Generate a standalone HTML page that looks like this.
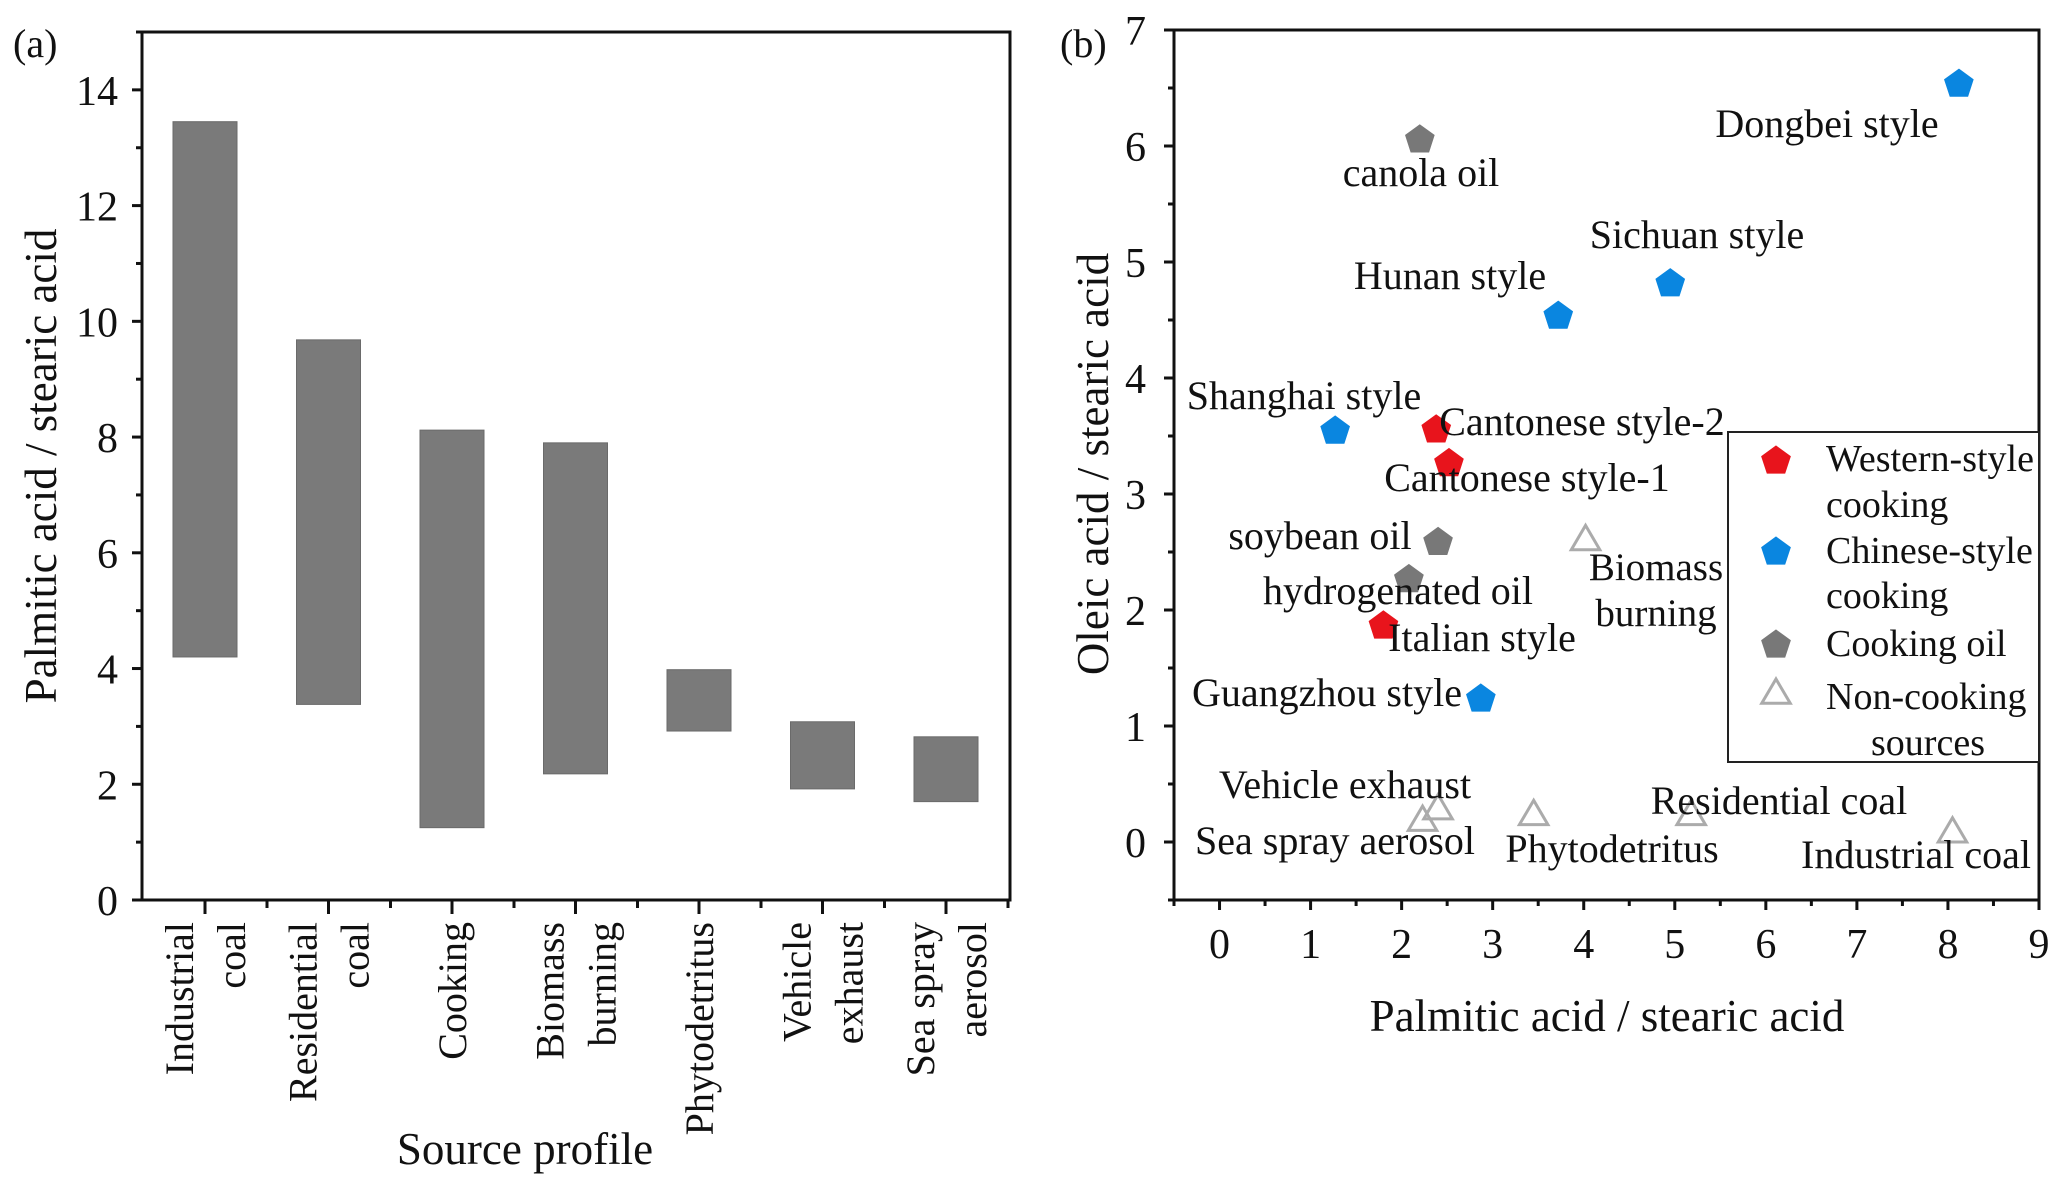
<!DOCTYPE html>
<html><head><meta charset="utf-8"><style>
html,body{margin:0;padding:0;background:#fff}
svg{display:block;font-family:"Liberation Serif",serif}
</style></head><body>
<svg id="c" width="2067" height="1193" viewBox="0 0 2067 1193" xmlns="http://www.w3.org/2000/svg"></svg>
<script>
const catLine1=["Industrial","Residential","Cooking","Biomass","Phytodetritus","Vehicle","Sea spray"];
const catLine2=["coal","coal","","burning","","exhaust","aerosol"];
const barLow=[4.2,3.38,1.25,2.18,2.92,1.92,1.7];
const barHigh=[13.45,9.68,8.12,7.9,3.98,3.08,2.82];
const aTicks=[0,2,4,6,8,10,12,14];
const ptNames=["Dongbei style","canola oil","Sichuan style","Hunan style","Shanghai style","Cantonese style-2","Cantonese style-1","soybean oil","hydrogenated oil","Italian style","Guangzhou style","Biomass burning","Vehicle exhaust","Sea spray aerosol","Phytodetritus","Residential coal","Industrial coal"];
const ptX=[8.12,2.2,4.95,3.72,1.27,2.38,2.52,2.4,2.08,1.8,2.87,4.02,2.4,2.23,3.45,5.18,8.05];
const ptY=[6.55,6.07,4.83,4.55,3.56,3.57,3.28,2.6,2.28,1.88,1.25,2.6,0.28,0.18,0.23,0.23,0.08];
const ptGroup=["cn","oil","cn","cn","cn","west","west","oil","oil","west","cn","non","non","non","non","non","non"];
const bxTicks=[0,1,2,3,4,5,6,7,8,9];
const byTicks=[0,1,2,3,4,5,6,7];
const NS="http://www.w3.org/2000/svg";
const svg=document.getElementById('c');
function mk(t,a,p){const e=document.createElementNS(NS,t);for(const k in a)e.setAttribute(k,a[k]);(p||svg).appendChild(e);return e;}
function txt(s,x,y,size,anchor,p){const e=mk('text',{x:x,y:y,'font-size':size,'text-anchor':anchor||'middle',fill:'#111'},p);e.textContent=s;return e;}
// ---- panel a
const aL=142,aR=1010,aT=32,aB=900;
const ay=v=>aB-(aB-aT)*(v/15);
const ax=i=>205+123.5*i;
const ga=mk('g',{});
let t=txt('(a)',13,57,40,'start',ga);
for(let i=0;i<catLine1.length;i++){
  const r=mk('rect',{x:ax(i)-32,y:ay(barHigh[i]),width:64,height:ay(barLow[i])-ay(barHigh[i]),fill:'#7a7a7a',stroke:'#6a6a6a','stroke-width':1},ga);
  
  
}
mk('rect',{x:aL,y:aT,width:aR-aL,height:aB-aT,fill:'none',stroke:'#111','stroke-width':3},ga);
for(let v=0;v<=15;v++){mk('line',{x1:aL-(v%2==0?10:6),x2:aL,y1:ay(v),y2:ay(v),stroke:'#111','stroke-width':3},ga);}
aTicks.forEach(v=>{const e=txt(String(v),118,ay(v)+15,42,'end',ga);});
for(let i=0;i<catLine1.length;i++){
  mk('line',{x1:ax(i),x2:ax(i),y1:aB,y2:aB+14,stroke:'#111','stroke-width':3},ga);
  mk('line',{x1:ax(i)+62,x2:ax(i)+62,y1:aB,y2:aB+8,stroke:'#111','stroke-width':3},ga);
  if(catLine2[i]){
    let e=txt(catLine1[i],0,0,40,'end',ga);e.setAttribute('transform',`translate(${ax(i)-12},922) rotate(-90)`);
    
    e=txt(catLine2[i],0,0,40,'end',ga);e.setAttribute('transform',`translate(${ax(i)+40},922) rotate(-90)`);
    
  } else {
    let e=txt(catLine1[i],0,0,40,'end',ga);e.setAttribute('transform',`translate(${ax(i)+14},922) rotate(-90)`);
    
  }
}
t=txt('Source profile',525,1164,45,'middle',ga);
t=txt('Palmitic acid / stearic acid',0,0,45,'middle',ga);t.setAttribute('transform','translate(56,466) rotate(-90)');

// ---- panel b
const bL=1174,bR=2039,bT=30,bB=900;
const bx=v=>bL+(bR-bL)*((v+0.5)/9.5);
const by=v=>bB-(bB-bT)*((v+0.5)/7.5);
const gb=mk('g',{});
t=txt('(b)',1060,57,40,'start',gb);
mk('rect',{x:bL,y:bT,width:bR-bL,height:bB-bT,fill:'none',stroke:'#111','stroke-width':3},gb);
for(let v=-0.5;v<=9;v+=0.5){mk('line',{x1:bx(v),x2:bx(v),y1:bB,y2:bB+(Number.isInteger(v)?10:6),stroke:'#111','stroke-width':3},gb);}
for(let v=-0.5;v<=7;v+=0.5){mk('line',{x1:bL-(Number.isInteger(v)?10:6),x2:bL,y1:by(v),y2:by(v),stroke:'#111','stroke-width':3},gb);}
bxTicks.forEach(v=>{const e=txt(String(v),bx(v),958,42,'middle',gb);});
byTicks.forEach(v=>{const e=txt(String(v),1146,by(v)+15,42,'end',gb);});
t=txt('Palmitic acid / stearic acid',1607,1031,45,'middle',gb);
t=txt('Oleic acid / stearic acid',0,0,45,'middle',gb);t.setAttribute('transform','translate(1108,464) rotate(-90)');

const colors={west:'#e8141c',cn:'#0a86e0',oil:'#787878'};
function marker(g,x,y,p){
  if(g==='non'){
    const r=15;return mk('polygon',{points:`${x},${y-r} ${x+r*0.95},${y+r*0.62} ${x-r*0.95},${y+r*0.62}`,fill:'none',stroke:'#ababab','stroke-width':3},p);
  }
  const r=15;let pts=[];for(let k=0;k<5;k++){const a=-Math.PI/2+k*2*Math.PI/5;pts.push((x+r*Math.cos(a)).toFixed(1)+','+(y+r*Math.sin(a)+2).toFixed(1));}
  return mk('polygon',{points:pts.join(' '),fill:colors[g],stroke:colors[g],'stroke-width':1},p);
}
const lblPos=[[1827,137],[1421,186],[1697,248],[1450,289],[1304,409],[1582,435],[1527,491],[1320,549],[1398,604],[1482,651],[1327,706],[1656,580],[1345,798],[1335,854],[1612,862],[1779,814],[1916,868]];
for(let i=0;i<ptNames.length;i++){
  const m=marker(ptGroup[i],bx(ptX[i]),by(ptY[i]),gb);
  
  
}
for(let i=0;i<ptNames.length;i++){
  let e;
  if(ptNames[i]==='Biomass burning'){
    e=txt('Biomass',lblPos[i][0],lblPos[i][1],39,'middle',gb);
    const e2=txt('burning',lblPos[i][0],lblPos[i][1]+46,39,'middle',gb);
    
  } else e=txt(ptNames[i],lblPos[i][0],lblPos[i][1],40,'middle',gb);
  
}
const lg=mk('g',{},gb);
mk('rect',{x:1728,y:432,width:311,height:330,fill:'#fff',stroke:'#222','stroke-width':2},lg);
const legG=['west','cn','oil','non'];const legMY=[459,550,643,694];
const legTxt=[['Western-style',471,'start',1826],['cooking',517,'start',1826],['Chinese-style',563,'start',1826],['cooking',608,'start',1826],['Cooking oil',656,'start',1826],['Non-cooking',709,'start',1826],['sources',755,'middle',1928]];
legG.forEach((g,i)=>{const m=marker(g,1776,legMY[i],lg);});
legTxt.forEach(a=>{const e=txt(a[0],a[3],a[1],38,a[2],lg);});
</script>
</body></html>
